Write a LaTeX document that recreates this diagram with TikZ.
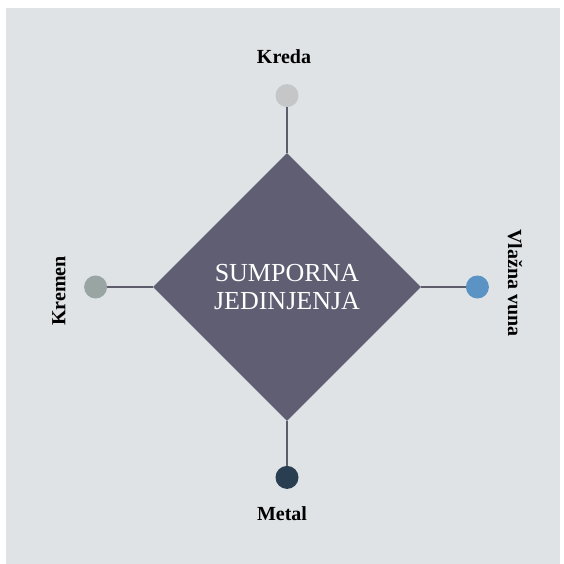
\documentclass[tikz,border=0pt]{standalone}
\usepackage{fontspec}
\setmainfont{Liberation Serif}
\usepackage{xcolor}
\usepackage{tikz}
\usetikzlibrary{shapes.geometric, positioning}
\definecolor{paper}{HTML}{DFE3E6}
\definecolor{coreviolet}{HTML}{5F5E72}
\definecolor{stemgray}{HTML}{5C5C6A}
\definecolor{chalkgray}{HTML}{C4C6C8}
\definecolor{flintgreen}{HTML}{98A5A3}
\definecolor{woolblue}{HTML}{5B93C4}
\definecolor{metalnavy}{HTML}{2A3E52}
\tikzset{
    coreblock/.style={diamond, aspect=1, fill=coreviolet, minimum width=268pt, minimum height=268pt, inner sep=0pt, text=white, align=center, font=\fontsize{26}{28}\selectfont},
    dotnode/.style={circle, minimum size=23pt, inner sep=0pt},
    tag/.style={font=\fontsize{20}{22}\selectfont\bfseries, text=black, inner sep=0pt},
    stem/.style={line width=2pt, color=stemgray}
}

\begin{document}
\begin{tikzpicture}[x=1pt, y=-1pt]
    \useasboundingbox (0,0) rectangle (563,564);
    \fill[white] (0,0) rectangle (563,564);
    \fill[paper] (6,8) rectangle (560,564);

    \node (core) [coreblock] at (287,287) {SUMPORNA\\JEDINJENJA};
    \node (kreda) [dotnode, fill=chalkgray, above=45.5pt of core] {};
    \node (vuna) [dotnode, fill=woolblue, right=44.5pt of core] {};
    \node (metal) [dotnode, fill=metalnavy, below=44.5pt of core] {};
    \node (kremen) [dotnode, fill=flintgreen, left=45.5pt of core] {};

    \node (kredatag) [tag] at (284,57) {Kreda};
    \node (vunatag) [tag, rotate=-90] at (515,283) {Vlažna vuna};
    \node (metaltag) [tag] at (282,514) {Metal};
    \node (kremtag) [tag, rotate=90] at (59,291) {Kremen};

    \draw [stem] (kreda) -- (core.north);
    \draw [stem] (vuna) -- (core.east);
    \draw [stem] (metal) -- (core.south);
    \draw [stem] (kremen) -- (core.west);
\end{tikzpicture}
\end{document}
